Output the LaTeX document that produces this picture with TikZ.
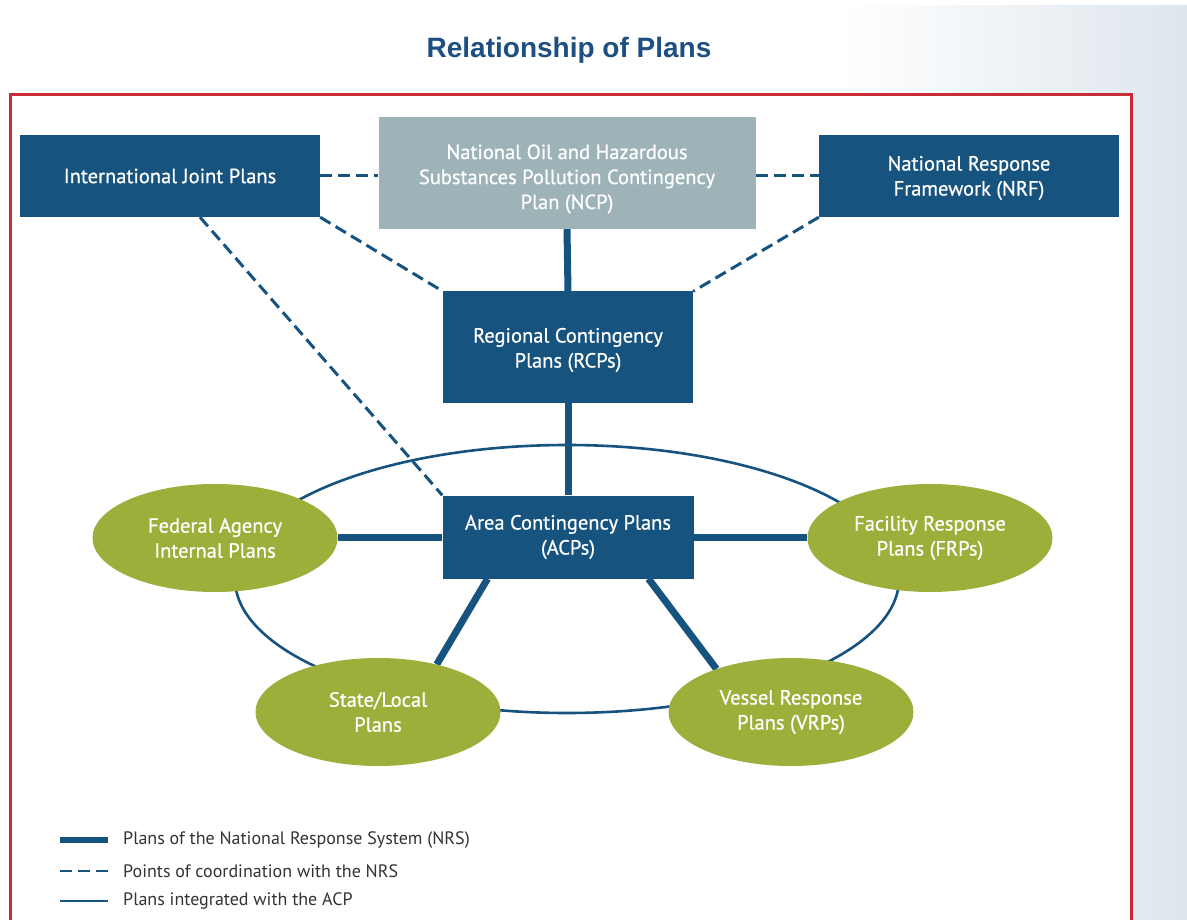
\documentclass[tikz,border=0pt]{standalone}
\usepackage{fontspec}
\setmainfont{PT Sans}
\newfontfamily\boxfont[FakeBold=0.7]{PT Sans}
\newfontfamily\titlefont{Liberation Sans}
\usetikzlibrary{shapes.geometric,calc}

\definecolor{nrsblue}{RGB}{22,83,126}
\definecolor{ncpgray}{RGB}{157,179,184}
\definecolor{plangreen}{RGB}{157,175,58}
\definecolor{framered}{RGB}{200,44,54}
\definecolor{titleblue}{RGB}{29,80,128}
\definecolor{legendtext}{RGB}{51,51,51}
\definecolor{haze}{RGB}{222,230,237}

\pgfdeclarelayer{back}
\pgfdeclarelayer{links}
\pgfsetlayers{back,links,main}

% centred block of lines, pushed down by half of the given space
\newcommand{\lowtext}[3]{\parbox{#2}{\centering\vspace*{#1}#3}}

\begin{document}
\begin{tikzpicture}[x=1pt,y=-1pt,
  box/.style={rectangle, fill=nrsblue, text=white, align=center, inner sep=0pt,
    font=\boxfont\fontsize{20.5}{25}\selectfont},
  greybox/.style={box, fill=ncpgray},
  oval/.style={ellipse, fill=plangreen, text=white, align=center, inner sep=0pt,
    minimum width=245pt, minimum height=108pt, font=\boxfont\fontsize{20.5}{25}\selectfont},
  nrsline/.style={nrsblue, line width=7pt},
  coordline/.style={nrsblue, line width=3pt, dash pattern=on 12pt off 6pt},
  acpline/.style={nrsblue, line width=2.6pt},
  legendlabel/.style={anchor=west, text=legendtext, inner sep=0pt,
    font=\fontsize{18}{20}\selectfont}]

\useasboundingbox (0,0) rectangle (1187,920);

% page background with the light haze on the right
\begin{pgfonlayer}{back}
  \fill[white] (0,0) rectangle (1187,920);
  \shade[left color=white, right color=haze] (840,6) rectangle (1187,920);
  \draw[framered, line width=3pt, fill=white] (10,95) rectangle (1131,930);
\end{pgfonlayer}

% title
\node (title) at (569,50) [text=titleblue, font=\titlefont\fontsize{28}{32}\selectfont\bfseries] {Relationship of Plans};

% plan boxes
\node (ijp) at (170,176) [box, minimum width=300pt, minimum height=82pt] {International Joint Plans};
\node (ncp) at (567,173) [greybox, minimum width=377pt, minimum height=112pt]
  {\lowtext{12pt}{370pt}{National Oil and Hazardous\\Substances Pollution Contingency\\Plan (NCP)}};
\node (nrf) at (969,176) [box, minimum width=300pt, minimum height=82pt]
  {\lowtext{4pt}{290pt}{National Response\\Framework (NRF)}};
\node (rcp) at (568,347) [box, minimum width=250pt, minimum height=111pt]
  {\lowtext{6pt}{240pt}{Regional Contingency\\Plans (RCPs)}};
\node (acp) at (568,537) [box, minimum width=251pt, minimum height=83pt] {Area Contingency Plans\\(ACPs)};

% plans integrated with the ACP
\node (fed) at (215,538) [oval] {Federal Agency\\Internal Plans};
\node (fac) at (930,538) [oval] {Facility Response\\Plans (FRPs)};
\node (state) at (378,712) [oval] {State/Local\\Plans};
\node (vessel) at (791,712) [oval] {Vessel Response\\Plans (VRPs)};

\begin{pgfonlayer}{links}
  % ring of plans integrated with the ACP
  \draw[acpline] (567,579) ellipse [x radius=332, y radius=134];
  % plans of the national response system
  \draw[nrsline] (ncp.south) -- (rcp.north);
  \draw[nrsline] (rcp.south) -- (acp.north);
  \draw[nrsline] (acp.west) -- (acp.west -| fed.east);
  \draw[nrsline] (acp.east) -- (acp.east -| fac.west);
  \draw[nrsline] ($(acp.south west)!0.18!(acp.south east)$) -- (state.39);
  \draw[nrsline] ($(acp.south west)!0.82!(acp.south east)$) -- (vessel.150);
  % points of coordination
  \draw[coordline] (ijp.east) -- (ijp.east -| ncp.west);
  \draw[coordline] (nrf.west -| ncp.east) -- (nrf.west);
  \draw[coordline] (ijp.south east) -- (rcp.north west);
  \draw[coordline] (nrf.south west) -- (rcp.north east);
  \draw[coordline] ($(ijp.south west)!0.6!(ijp.south east)$) -- (acp.north west);
\end{pgfonlayer}

% legend
\node (lg1) at (123,840) [legendlabel] {Plans of the National Response System (NRS)};
\node (lg2) at (123,871) [legendlabel] {Points of coordination with the NRS};
\node (lg3) at (123,901) [legendlabel] {Plans integrated with the ACP};
\draw[nrsblue, line width=6pt] ($(lg1.west)+(-63,0)$) -- ($(lg1.west)+(-15,0)$);
\draw[nrsblue, line width=2.6pt, dash pattern=on 12pt off 6pt] ($(lg2.west)+(-63,0)$) -- ($(lg2.west)+(-15,0)$);
\draw[acpline] ($(lg3.west)+(-63,0)$) -- ($(lg3.west)+(-15,0)$);

\end{tikzpicture}
\end{document}
